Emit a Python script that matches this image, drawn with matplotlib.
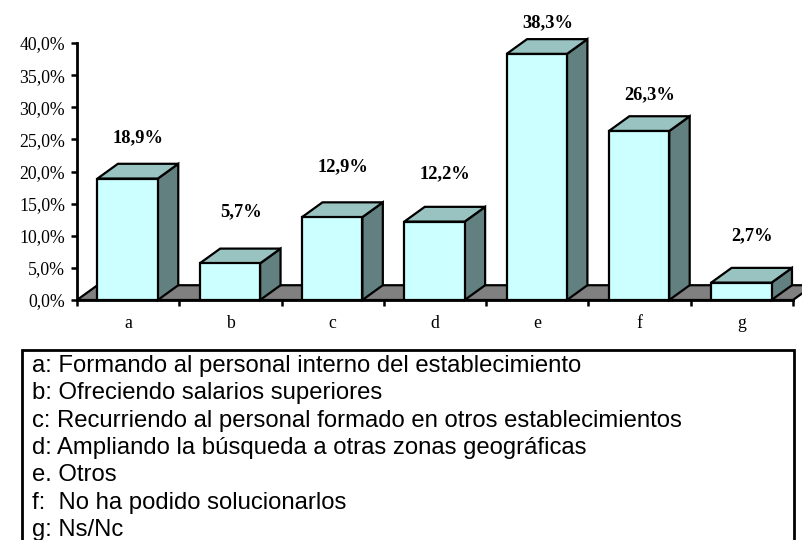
import matplotlib
matplotlib.use("Agg")
import matplotlib.pyplot as plt
from matplotlib.patches import Polygon, Rectangle

categories = ["a", "b", "c", "d", "e", "f", "g"]
values = [18.9, 5.7, 12.9, 12.2, 38.3, 26.3, 2.7]
value_labels = ["18,9%", "5,7%", "12,9%", "12,2%", "38,3%", "26,3%", "2,7%"]
label_heights = [25.3, 13.7, 20.8, 19.6, 43.2, 31.9, 10.0]
yticks = [0, 5, 10, 15, 20, 25, 30, 35, 40]
ytick_labels = ["0,0%", "5,0%", "10,0%", "15,0%", "20,0%", "25,0%", "30,0%", "35,0%", "40,0%"]
legend_lines = [
    "a: Formando al personal interno del establecimiento",
    "b: Ofreciendo salarios superiores",
    "c: Recurriendo al personal formado en otros establecimientos",
    "d: Ampliando la búsqueda a otras zonas geográficas",
    "e. Otros",
    "f:  No ha podido solucionarlos",
    "g: Ns/Nc",
]

W, H = 802, 540
fig = plt.figure(figsize=(W / 100, H / 100), dpi=100)
fig.patch.set_facecolor("white")

x0, x1, y0, y1 = 77, 793, 300, 43
ax = fig.add_axes([x0 / W, 1 - y0 / H, (x1 - x0) / W, (y0 - y1) / H])
ax.set_xlim(-0.5, len(categories) - 0.5)
ax.set_ylim(0, 40)
ax.set_facecolor("none")

FRONT = "#CCFFFF"
TOP = "#99C3C0"
SIDE = "#628080"
FLOOR = "#808080"
dx, dy = 0.2, 2.3
bw = 0.59
lw = 1.6

# floor
n = len(categories)
floor = Polygon([(-0.5, 0), (n - 0.5, 0), (n - 0.5 + dx, dy), (-0.5 + dx, dy)],
                closed=True, facecolor=FLOOR, edgecolor="black", linewidth=lw,
                clip_on=False, zorder=1)
ax.add_patch(floor)

for i, v in enumerate(values):
    l = i - 0.3
    r = l + bw
    front = Polygon([(l, 0), (r, 0), (r, v), (l, v)], closed=True,
                    facecolor=FRONT, edgecolor="black", linewidth=lw,
                    clip_on=False, zorder=3)
    top = Polygon([(l, v), (r, v), (r + dx, v + dy), (l + dx, v + dy)], closed=True,
                  facecolor=TOP, edgecolor="black", linewidth=lw,
                  clip_on=False, zorder=3)
    side = Polygon([(r, 0), (r + dx, dy), (r + dx, v + dy), (r, v)], closed=True,
                   facecolor=SIDE, edgecolor="black", linewidth=lw,
                   clip_on=False, zorder=3)
    for p in (side, top, front):
        ax.add_patch(p)
    ax.text(i + 0.1, label_heights[i], value_labels[i], ha="center", va="center",
            fontsize=13.3, fontweight="bold", family="Liberation Serif", zorder=5)

for s in ("top", "right"):
    ax.spines[s].set_visible(False)
for s in ("left", "bottom"):
    ax.spines[s].set_linewidth(2)
    ax.spines[s].set_zorder(4)

ax.set_yticks(yticks)
ax.set_yticklabels(ytick_labels, family="Liberation Serif", fontsize=12.8)
ax.set_xticks([i + 0.5 for i in range(-1, n)], minor=False)
ax.set_xticklabels([])
ax.tick_params(axis="y", direction="out", length=4.5, width=1.8, pad=4)
ax.tick_params(axis="x", direction="out", length=4, width=1.8)
for i, c in enumerate(categories):
    ax.text(i, -3.6, c, ha="center", va="center", family="Liberation Serif",
            fontsize=12.8, clip_on=False)

# legend box
rect = Rectangle((22 / W, -0.05), (794 - 22) / W, (1 - 350 / H) + 0.05,
                 transform=fig.transFigure, facecolor="white", edgecolor="black",
                 linewidth=2, clip_on=False)
fig.patches.append(rect)
for k, line in enumerate(legend_lines):
    yy = 366 + 27.3 * k
    fig.text(32 / W, 1 - yy / H, line, ha="left", va="center",
             family="Liberation Sans", fontsize=17.2)

fig.savefig("out.png", dpi=100)
